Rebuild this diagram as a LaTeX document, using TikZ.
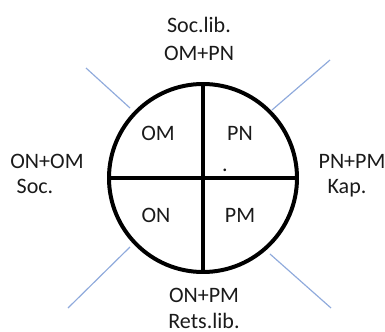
\documentclass[tikz,border=0pt]{standalone}
\usepackage{fontspec}
\setmainfont{Carlito}
\usetikzlibrary{positioning}
\definecolor{spoke}{HTML}{8FAADC}
\definecolor{ink}{HTML}{1A1A1A}

\begin{document}
\begin{tikzpicture}[x=0.03cm, y=-0.03cm,
  lbl/.style={anchor=base, inner sep=0pt, text=ink, font=\fontsize{18.8}{22}\selectfont},
  spokeline/.style={draw=spoke, line width=1pt}]
\useasboundingbox (0,0) rectangle (385,332);

% Wheel with cross
\node[circle, draw, line width=3.4pt, minimum size=5.64cm, inner sep=0pt, outer sep=0pt] (wheel) at (203,178) {};
\draw[line width=2.6pt] (wheel.north) -- (wheel.south);
\draw[line width=2.6pt] (wheel.west) -- (wheel.east);

% Quadrants
\node[lbl] (om) at (158,140) {OM};
\node[lbl] (pn) at (240,140) {PN};
\node[lbl] (on) at (156,222) {ON};
\node[lbl] (pm) at (240,222) {PM};
\node[lbl] (dot) at (225,171) {.};

% Spokes
\coordinate (nw in) at (130,108);  \coordinate (nw out) at (86,68);
\coordinate (ne in) at (272,110);  \coordinate (ne out) at (330,60);
\coordinate (sw in) at (130,247);  \coordinate (sw out) at (68,308);
\coordinate (se in) at (270,254);  \coordinate (se out) at (331,308);
\foreach \d in {nw,ne,sw,se} {
    \draw[spokeline] (\d\space in) -- (\d\space out);
}

% Outer labels
\node[lbl] (top1) at (199,32) {Soc.lib.};
\node[lbl] (top2) at (199,60) {OM+PN};
\node[lbl] (left1) at (47,168) {ON+OM};
\node[lbl] (left2) at (35,193) {Soc.};
\node[lbl] (right1) at (352,168) {PN+PM};
\node[lbl] (right2) at (347,193) {Kap.};
\node[lbl] (bot1) at (204,302) {ON+PM};
\node[lbl] (bot2) at (204,328) {Rets.lib.};
\end{tikzpicture}
\end{document}
